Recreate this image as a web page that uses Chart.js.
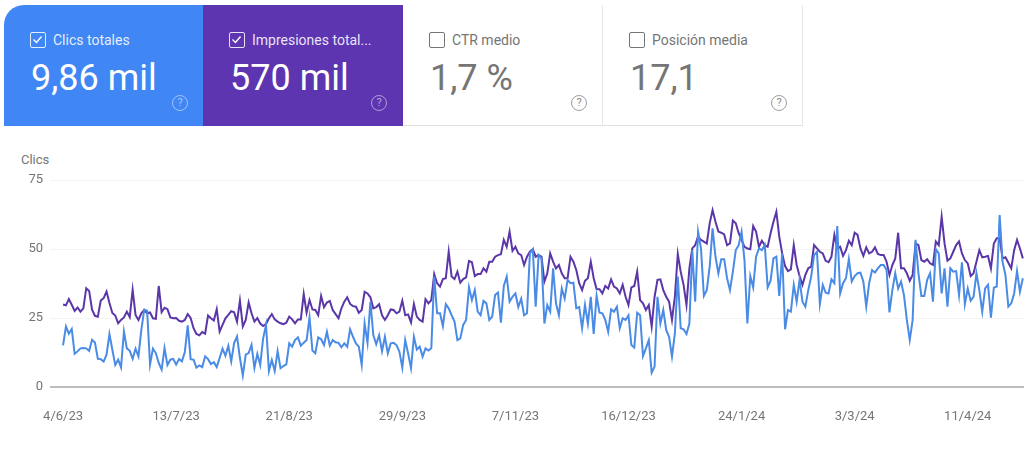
<!DOCTYPE html>
<html lang="es">
<head>
<meta charset="utf-8">
<title>Clics e impresiones</title>
<script src="https://cdn.jsdelivr.net/npm/chart.js@4"></script>
<style>
  html, body { margin: 0; padding: 0; background: #fff; }
  body { width: 1024px; height: 454px; overflow: hidden; position: relative; font-family: Roboto, sans-serif; }
  .card { position: absolute; top: 5px; width: 200px; height: 121px; box-sizing: border-box; color: #757575; border-bottom: 1px solid #e0e0e0; border-right: 1px solid #e6e6e6; }
  .card.on { color: #fff; border: 0; }
  .card .box { position: absolute; left: 26px; top: 27px; width: 16px; height: 16px; box-sizing: border-box; border: 1.6px solid #757575; border-radius: 2px; }
  .card.on .box { border-color: rgba(255,255,255,.85); }
  .card .box svg { position: absolute; left: 1px; top: 1px; }
  .card .label { position: absolute; left: 49px; top: 26px; font-size: 14px; line-height: 18px; white-space: nowrap; }
  .card.on .label { color: rgba(255,255,255,.88); }
  .card .value { position: absolute; left: 27px; top: 50px; font-size: 36px; line-height: 46px; white-space: nowrap; }
  .card .help { position: absolute; left: 168px; top: 90px; width: 16px; height: 16px; box-sizing: border-box; border: 1.4px solid #9e9e9e; border-radius: 50%; font-size: 11px; line-height: 13px; text-align: center; color: #8a8a8a; }
  .card.on .help { border-color: rgba(255,255,255,.5); color: rgba(255,255,255,.55); }
  #axisName { position: absolute; left: 21px; top: 152px; font-size: 13px; line-height: 16px; color: #757575; }
  #wrap { position: absolute; left: 0; top: 150px; width: 1024px; height: 290px; }
</style>
</head>
<body>
<div class="card on" style="left:4px;background:#4086f4;border-top-left-radius:20px">
  <div class="box"><svg width="11" height="11" viewBox="0 0 11 11"><path d="M1.5 5.5l3 3 5-6" fill="none" stroke="#fff" stroke-width="1.4"/></svg></div>
  <div class="label">Clics totales</div><div class="value">9,86 mil</div><div class="help">?</div>
</div>
<div class="card on" style="left:203px;background:#5e35b1">
  <div class="box"><svg width="11" height="11" viewBox="0 0 11 11"><path d="M1.5 5.5l3 3 5-6" fill="none" stroke="#fff" stroke-width="1.4"/></svg></div>
  <div class="label">Impresiones total...</div><div class="value">570 mil</div><div class="help">?</div>
</div>
<div class="card" style="left:403px">
  <div class="box"></div><div class="label">CTR medio</div><div class="value">1,7 %</div><div class="help">?</div>
</div>
<div class="card" style="left:603px">
  <div class="box"></div><div class="label">Posición media</div><div class="value">17,1</div><div class="help">?</div>
</div>
<div id="axisName">Clics</div>
<div id="wrap"><canvas id="searchChart" width="1024" height="290"></canvas></div>
<script>
const tickDays = [0, 39, 78, 117, 156, 195, 234, 273, 312];
const tickLabels = ['4/6/23', '13/7/23', '21/8/23', '29/9/23', '7/11/23', '16/12/23', '24/1/24', '3/3/24', '11/4/24'];
const yTicks = [0, 25, 50, 75];

// one value per day
const clicks = [
  15.1,21.9,19.3,21,12,12.9,14,14.1,14,13.1,
  17.1,16.1,10.2,10.1,9.2,11.7,19.2,13.5,8,9.9,
  7.1,20.1,14,13.1,10.2,13.9,11.1,20.7,28,27.6,
  8.1,13.9,12.3,8.7,6.3,14.1,8,9.9,10.2,8.1,
  10.1,9.3,12.7,22.3,10.1,9.9,7,7.8,7.2,11.1,
  10.1,8.3,9,7.2,10.5,13.9,11.3,14.9,9.3,15.9,
  18.3,10.5,4.1,11.7,12.3,15.3,6.9,12,8,17.6,
  22.5,5.8,9.8,5.8,13,6.8,7.6,8.2,15.8,14.6,
  17,18,15,16,17,25.2,13.2,12.2,18,17.3,
  15.2,20,15,17,16.2,16,14.4,15.8,14.6,20.9,
  18.2,15.8,14.6,8,23,16,30.9,18.8,15.5,18.8,
  13,18.2,12.2,15.8,16,15.2,12.8,7,17,12.2,
  6.8,18.2,13.6,14.6,11,14,13.2,14,40,26.7,
  26.7,22.1,30,28.5,26,23.7,17,17.6,22.5,24.3,
  36.1,31.5,35.1,27.3,26,31.2,30.3,24.3,25.5,33.3,
  34.2,23.3,36.6,40,30.9,32.7,33.9,29,32,26,
  26.7,48.4,49.9,29.1,47.8,46.6,23,29.7,27.3,43,
  30.3,26,35.7,32,38.8,37.6,37.8,28.5,29,21.3,
  29.7,23,32.7,19.2,33,26.9,26.7,24.3,20,28.1,
  27.3,29.1,21.3,24.9,24.3,26,15.2,14.3,26.9,26,
  11.2,14,17,5.2,7.4,32.7,23,27.9,20.7,18.2,
  11,19.4,40,21.3,20.9,19.2,23,49.6,30.9,56.3,
  50.2,33,35.1,43.6,57.5,47.2,41.2,46.3,46.3,39.4,
  35.1,41.8,49.6,51.4,56.3,46,23,40.2,36.1,47.2,
  50.2,49.6,51.4,36.1,38.5,46.6,47.2,33,48.4,20.9,
  27.9,27.3,37,30.9,38.8,30.9,29.1,35.1,40,47.8,
  49,30,37,34.2,33.9,39,37.6,58.3,33.9,37.6,
  39.4,46.3,38.2,40.2,41.2,41.4,38.2,29.1,37.6,42.4,
  41.5,43,44.2,44.2,42.4,27,35.1,41.2,35.7,38.2,
  33.3,24.3,17,24.3,53.3,41.2,33,33,38.8,41.2,
  30.9,49.9,48.4,33.9,43,29.1,43,41.8,42,33.3,
  45.2,30,35.7,31.3,32.7,41.2,35.1,27.3,35.7,37,
  25.1,36,36.4,62.3,45.4,40.6,29.1,30.3,33.9,42,34.5,39.4
];
const impressions = [
  29.9,29.6,31.9,29.8,27.6,28.8,27.3,28.5,35.8,34.8,
  28,25.8,25.5,31.3,32.2,34.6,30.4,26.8,25.9,23.1,
  24.3,25.2,27.3,25.3,35.2,26.1,24.3,26.7,27.9,26.7,
  27,24.9,24.7,36.6,27.1,28.7,28.2,25.2,24.9,25,
  24,23.7,24.3,26.4,25,21.3,19.2,18.7,19.9,19.3,
  25.9,24.9,24.1,28.2,20.1,22.5,24.9,26.1,27.5,27.1,
  23.7,31.3,21.9,24.3,30.6,26.7,23.7,25,23,22.1,
  22.8,24.9,26.4,24.5,23.7,23.1,22.8,23.3,25.5,24.5,
  23.1,24.5,24.5,33.7,26.9,31.5,28.1,27.9,26,33,
  28.9,30.6,31.2,27.9,26.4,24.9,28.5,30.9,32.5,30.1,
  29.3,29.1,26.9,27.9,34.5,33.9,32.5,28.5,28.9,30,
  26,24.3,26,28.1,27.9,26.7,27.3,31.3,26,26.3,
  23.4,30.1,25.5,24.3,23.7,31.8,30.3,31.5,40.9,37.6,
  36.4,39.1,39.4,49,40,39.1,41.8,37.8,39.1,39.7,
  45.7,45.2,40.2,40.9,40.9,43,41.8,45.4,45.4,47.2,
  47.8,48.1,53.3,50.8,56.3,49.3,50.8,48.4,47.8,44.2,
  47.2,49,49.9,47.2,47.8,47.2,38.2,41.2,48.4,45.4,
  43,44.2,41.2,39.4,39.4,47.2,45.4,42.4,37.6,35.1,
  38.5,39.4,45.4,39.4,35.5,35.4,33.9,36.6,35.7,39,
  36.4,35.7,33.9,37,32.7,29.7,36.1,36.6,41.8,31.5,
  30.3,27.9,29.7,21.9,32.7,38.8,39,35.1,32.7,30.9,
  24.3,32.7,48.2,41.8,37,29.7,43,50.2,51.4,54.5,
  53.3,52.7,52,59.3,64.1,59.9,56.3,55.9,55.3,51.4,
  52,60.3,59.3,55.7,53.3,50.8,50.2,49.9,58.3,56.3,
  50.8,53,51.4,50.8,55.7,59.9,63.5,54.5,48.4,43.8,
  42,42.6,51.4,44.2,40.2,37,40.6,43,43.6,51.4,
  50.2,49,48.4,45.7,45.2,47.2,55.1,50.2,50.8,47.5,
  49.6,53,51.4,55.9,55.1,50.2,47.5,50.6,48.4,49,
  50.6,48.2,47.8,47.8,45.4,40.6,44.2,46.6,55.9,43,
  43,41.2,38.5,40.6,52,51.4,46,45.4,46.3,44.8,
  44.2,52.7,51.4,61.7,52,45.8,46.6,49,51.4,52.7,
  48.4,46,44.8,40.2,41.2,45.4,49.6,47,47.2,47.5,
  43,52,53.9,53.9,46.6,47,45,43,49.6,53.3,50.2,46.6
];

function toPoints(values) {
    return values.map((y, i) => ({ x: i, y: y }));
}

const ctx = document.getElementById('searchChart').getContext('2d');
new Chart(ctx, {
    type: 'line',
    data: {
        datasets: [
            { label: 'Clics', data: toPoints(clicks), borderColor: '#4a8be6', borderWidth: 2, pointRadius: 0, tension: 0 },
            { label: 'Impresiones', data: toPoints(impressions), borderColor: '#5b36a8', borderWidth: 2, pointRadius: 0, tension: 0 }
        ]
    },
    options: {
        responsive: false,
        animation: false,
        layout: { padding: { top: 30 } },
        plugins: { legend: { display: false }, tooltip: { enabled: false } },
        scales: {
            x: {
                type: 'linear',
                min: -4.5,
                max: 331.4,
                afterBuildTicks: axis => { axis.ticks = tickDays.map(d => ({ value: d })); },
                afterFit: axis => { axis.height = 53; },
                grid: { display: false },
                border: { display: false },
                ticks: {
                    autoSkip: false, maxRotation: 0, padding: 14, color: '#757575',
                    font: { family: 'Roboto', size: 13 },
                    callback: (v, i) => tickLabels[i]
                }
            },
            y: {
                min: 0,
                max: 75,
                afterBuildTicks: axis => { axis.ticks = yTicks.map(v => ({ value: v })); },
                afterFit: axis => { axis.width = 50; },
                border: { display: false },
                grid: {
                    drawTicks: false,
                    color: c => c.tick.value === 0 ? '#bdbdbd' : '#f3f3f3',
                    lineWidth: c => c.tick.value === 0 ? 2 : 1
                },
                ticks: { padding: 7, color: '#757575', font: { family: 'Roboto', size: 13 } }
            }
        }
    }
});
</script>
</body>
</html>
